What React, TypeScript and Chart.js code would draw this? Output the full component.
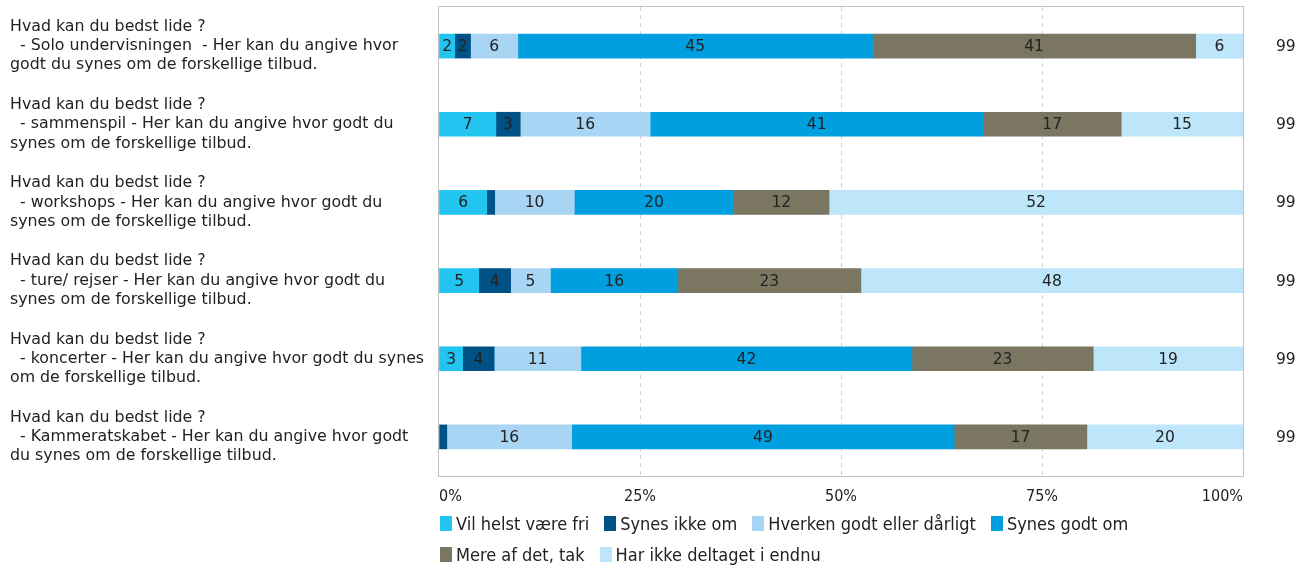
import React, { useEffect, useRef } from "react";
import { Chart, registerables } from "chart.js";

Chart.register(...registerables);

const categories: string[][] = [
  ["Hvad kan du bedst lide ?", "  - Solo undervisningen  - Her kan du angive hvor", "godt du synes om de forskellige tilbud."],
  ["Hvad kan du bedst lide ?", "  - sammenspil - Her kan du angive hvor godt du", "synes om de forskellige tilbud."],
  ["Hvad kan du bedst lide ?", "  - workshops - Her kan du angive hvor godt du", "synes om de forskellige tilbud."],
  ["Hvad kan du bedst lide ?", "  - ture/ rejser - Her kan du angive hvor godt du", "synes om de forskellige tilbud."],
  ["Hvad kan du bedst lide ?", "  - koncerter - Her kan du angive hvor godt du synes", "om de forskellige tilbud."],
  ["Hvad kan du bedst lide ?", "  - Kammeratskabet - Her kan du angive hvor godt", "du synes om de forskellige tilbud."],
];

const seriesNames = [
  "Vil helst være fri",
  "Synes ikke om",
  "Hverken godt eller dårligt",
  "Synes godt om",
  "Mere af det, tak",
  "Har ikke deltaget i endnu",
];

const seriesColors = ["#22c4f0", "#005286", "#a8d5f4", "#009fe0", "#7a7662", "#bde6fa"];

const vilHelstVaereFri = [2, 7, 6, 5, 3, 0];
const synesIkkeOm = [2, 3, 1, 4, 4, 1];
const hverkenGodtEllerDaarligt = [6, 16, 10, 5, 11, 16];
const synesGodtOm = [45, 41, 20, 16, 42, 49];
const mereAfDetTak = [41, 17, 12, 23, 23, 17];
const harIkkeDeltaget = [6, 15, 52, 48, 19, 20];

const respondents = [99, 99, 99, 99, 99, 99];

const xTicks = [0, 25, 50, 75, 100];

const legendRows = [[0, 1, 2, 3], [4, 5]];

const rawSeries = [
  vilHelstVaereFri,
  synesIkkeOm,
  hverkenGodtEllerDaarligt,
  synesGodtOm,
  mereAfDetTak,
  harIkkeDeltaget,
];

const rowTotals = categories.map((_, j) => rawSeries.reduce((s, arr) => s + arr[j], 0));

const LABEL_FONT = "'DejaVu Sans', Verdana, sans-serif";
const COND_FONT = "'DejaVu Sans Condensed', 'DejaVu Sans', sans-serif";
const TEXT_COLOR = "#222";

const barLabelsPlugin = {
  id: "barLabels",
  afterDatasetsDraw(chart: any) {
    const ctx = chart.ctx;
    ctx.save();
    ctx.font = `15.5px ${LABEL_FONT}`;
    ctx.fillStyle = TEXT_COLOR;
    ctx.textAlign = "center";
    ctx.textBaseline = "middle";
    chart.data.datasets.forEach((_: any, i: number) => {
      const meta = chart.getDatasetMeta(i);
      meta.data.forEach((bar: any, j: number) => {
        const raw = rawSeries[i][j];
        if (!raw) return;
        const p = bar.getProps(["x", "y", "base"], true);
        const w = Math.abs(p.x - p.base);
        const text = String(raw);
        const tw = ctx.measureText(text).width;
        if (tw + 2 > w) return;
        ctx.fillText(text, (p.x + p.base) / 2, p.y + 1);
      });
    });
    ctx.restore();
  },
};

const framePlugin = {
  id: "frameAndCounts",
  afterDraw(chart: any) {
    const { ctx, chartArea } = chart;
    ctx.save();
    ctx.strokeStyle = "#c0c0c0";
    ctx.lineWidth = 1;
    ctx.strokeRect(
      Math.round(chartArea.left) - 0.5,
      Math.round(chartArea.top) - 0.5,
      Math.round(chartArea.right - chartArea.left) + 1,
      Math.round(chartArea.bottom - chartArea.top) + 1
    );
    const yScale = chart.scales.y;
    ctx.font = `15.5px ${LABEL_FONT}`;
    ctx.fillStyle = TEXT_COLOR;
    ctx.textAlign = "left";
    ctx.textBaseline = "middle";
    respondents.forEach((n, j) => {
      const y = yScale.getPixelForValue(j);
      ctx.fillText(String(n), chartArea.right + 33, y + 1);
    });
    ctx.restore();
  },
};

function ChartCanvas() {
  const ref = useRef<HTMLCanvasElement>(null);
  useEffect(() => {
    if (!ref.current) return;
    const chart = new Chart(ref.current, {
      type: "bar",
      data: {
        labels: categories as any,
        datasets: rawSeries.map((arr, i) => ({
          label: seriesNames[i],
          data: arr.map((v, j) => (v / rowTotals[j]) * 100),
          backgroundColor: seriesColors[i],
          borderWidth: 0,
          barThickness: 24,
        })),
      },
      options: {
        indexAxis: "y",
        responsive: false,
        animation: false,
        layout: { padding: { left: 10, right: 56, top: 7, bottom: 0 } },
        plugins: {
          legend: { display: false },
          tooltip: { enabled: false },
        },
        scales: {
          x: {
            stacked: true,
            min: 0,
            max: 100,
            afterBuildTicks: (scale: any) => {
              scale.ticks = xTicks.map((v) => ({ value: v }));
            },
            afterFit: (scale: any) => {
              scale.height = 34;
              scale.paddingLeft = 0;
              scale.paddingRight = 0;
            },
            ticks: {
              align: "inner",
              padding: 11,
              color: TEXT_COLOR,
              font: { family: COND_FONT, size: 16 },
              callback: (v: any) => `${v}%`,
              maxRotation: 0,
            },
            grid: {
              drawTicks: false,
              color: (c: any) => (c.tick && (c.tick.value === 0 || c.tick.value === 100) ? "rgba(0,0,0,0)" : "#cfcfcf"),
              lineWidth: 1,
            },
            border: { display: false, dash: [4, 4] },
          },
          y: {
            stacked: true,
            afterFit: (scale: any) => {
              scale.width = 429;
              scale.paddingTop = 0;
              scale.paddingBottom = 0;
            },
            ticks: {
              crossAlign: "far",
              color: TEXT_COLOR,
              font: { family: LABEL_FONT, size: 15.8, lineHeight: 1.22 },
              padding: 0,
            },
            grid: { display: false },
            border: { display: false },
          },
        },
      },
      plugins: [barLabelsPlugin, framePlugin],
    } as any);
    return () => chart.destroy();
  }, []);
  return <canvas ref={ref} width={1299} height={510} style={{ display: "block" }} />;
}

export default function App() {
  return (
    <div style={{ position: "absolute", left: 0, top: 0, width: 1299, height: 565, background: "#fff" }}>
      <ChartCanvas />
      <div
        style={{
          position: "absolute",
          left: 440,
          top: 508,
          fontFamily: COND_FONT,
          fontStretch: "condensed",
          fontSize: 18,
          color: TEXT_COLOR,
        }}
      >
        {legendRows.map((row, r) => (
          <div key={r} style={{ display: "flex", height: 31, alignItems: "center" }}>
            {row.map((i) => (
              <div key={i} style={{ display: "flex", alignItems: "center", marginRight: 15 }}>
                <span
                  style={{
                    display: "inline-block",
                    width: 12,
                    height: 15,
                    background: seriesColors[i],
                    marginRight: 4,
                  }}
                />
                <span style={{ whiteSpace: "nowrap" }}>{seriesNames[i]}</span>
              </div>
            ))}
          </div>
        ))}
      </div>
    </div>
  );
}
